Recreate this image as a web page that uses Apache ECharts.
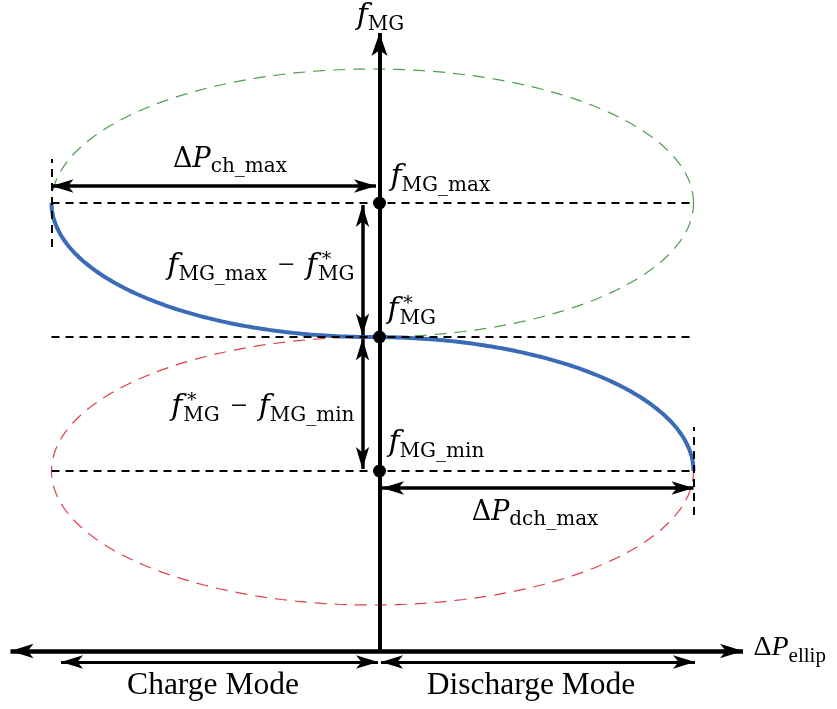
<!DOCTYPE html>
<html>
<head>
<meta charset="utf-8">
<script src="https://cdn.jsdelivr.net/npm/echarts@6/dist/echarts.min.js"></script>
<style>
  html, body { margin: 0; padding: 0; background: #ffffff; }
  #chart { width: 837px; height: 709px; }
</style>
</head>
<body>
<div id="chart"></div>
<script>
// Microgrid frequency levels: f_MG_max, f*_MG, f_MG_min
const freqLevels = [448, 314, 180];
// Power limits of the storage: charge (negative side) and discharge
const powerLimits = [-328, 314];
// Operating modes along the ΔP_ellip axis
const modeNames = ['Charge Mode', 'Discharge Mode'];
const chargeSpan = [-318.5, -1.5];
const dischargeSpan = [1.5, 315.5];
// Extent of the two axes
const pAxisSpan = [-369, 363.5];
const fAxisTop = 618;

const [fMax, fStar, fMin] = freqLevels;
const [pCh, pDch] = powerLimits;
const pCenter = (pCh + pDch) / 2;
const pHalf = (pDch - pCh) / 2;

// Points of an elliptic arc centred on frequency fc
function ellipseArc(fc, halfF, t0, t1, n) {
  const pts = [];
  for (let i = 0; i <= n; i++) {
    const t = t0 + (t1 - t0) * i / n;
    pts.push([pCenter + pHalf * Math.cos(t), fc + halfF * Math.sin(t)]);
  }
  return pts;
}
const upperEllipse = ellipseArc(fMax, fMax - fStar, 0, 2 * Math.PI, 240);
const lowerEllipse = ellipseArc(fMin, fStar - fMin, 0, 2 * Math.PI, 240);
const droopCurve = ellipseArc(fMax, fMax - fStar, Math.PI, 1.5 * Math.PI, 120)
  .concat(ellipseArc(fMin, fStar - fMin, 0.5 * Math.PI, 0, 120).slice(1));

// Straight line ending in arrow heads whose tips sit on the given points
function arrowLine(from, to, head, width, startArrow, endArrow) {
  return [
    { coord: from, symbol: startArrow ? 'arrow' : 'none', symbolSize: head,
      lineStyle: { color: '#000', width: width, type: 'solid' } },
    { coord: to, symbol: endArrow ? 'arrow' : 'none', symbolSize: head }
  ];
}
function dashedLine(from, to) {
  return [
    { coord: from, lineStyle: { color: '#000', width: 2, type: [8, 6] } },
    { coord: to }
  ];
}

const DIM_HEAD = [10, 22];
const arrows = [
  arrowLine([0, 0], [0, fAxisTop], [12, 23], 4, false, true),
  arrowLine([pAxisSpan[0], 0], [pAxisSpan[1], 0], [11, 23], 4.5, true, true),
  arrowLine([chargeSpan[0], -11], [chargeSpan[1], -11], DIM_HEAD, 3, true, true),
  arrowLine([dischargeSpan[0], -11], [dischargeSpan[1], -11], DIM_HEAD, 3, true, true),
  arrowLine([pCh, fMax + 17], [-3.5, fMax + 17], DIM_HEAD, 3.5, true, true),
  arrowLine([2.5, fMin - 17], [pDch, fMin - 17], DIM_HEAD, 3.5, true, true),
  arrowLine([-17, fMax - 2], [-17, fStar + 1.5], DIM_HEAD, 3.5, true, true),
  arrowLine([-17, fStar - 1.5], [-17, fMin + 2], DIM_HEAD, 3.5, true, true)
];
const guides = freqLevels.map(f => dashedLine([pCh, f], [pDch, f])).concat([
  dashedLine([pCh, fMax - 44], [pCh, fMax + 44]),
  dashedLine([pDch, fMin - 44], [pDch, fMin + 44])
]);

const mathFont = 'DejaVu Serif';
const textFont = 'Liberation Serif';
function tok(extra) {
  return Object.assign({ fontFamily: mathFont, color: '#000', align: 'left', verticalAlign: 'bottom' }, extra);
}
const rich = {
  f:  tok({ fontStyle: 'italic', fontSize: 30, lineHeight: 34, padding: [0, 0, 4, 0] }),
  s:  tok({ fontSize: 20, lineHeight: 22 }),
  st: tok({ fontSize: 19, lineHeight: 28, width: 1, verticalAlign: 'top' }),
  op: tok({ fontFamily: textFont, fontSize: 30, lineHeight: 34, padding: [0, 11, 4, 11] }),
  d:  tok({ fontSize: 27, lineHeight: 34, padding: [0, 0, 4, 0] }),
  p:  tok({ fontStyle: 'italic', fontSize: 27, lineHeight: 34, padding: [0, 0, 4, 0] }),
  d2: tok({ fontFamily: textFont, fontSize: 28, lineHeight: 32, padding: [0, 0, 5, 0] }),
  p2: tok({ fontFamily: textFont, fontStyle: 'italic', fontSize: 28, lineHeight: 32, padding: [0, 0, 5, 0] }),
  s2: tok({ fontFamily: textFont, fontSize: 21, lineHeight: 22 })
};

function textItem(anchor, formatter, position, offset, extra) {
  return {
    value: anchor,
    label: Object.assign({ show: true, position: position, distance: 0, offset: offset, formatter: formatter, color: '#000', opacity: 1 }, extra || {})
  };
}
const modeStyle = { fontFamily: textFont, fontSize: 31.5, color: '#000' };
const STAR = '{st|\u2005*}';
const textItems = [
  textItem([0, fAxisTop], '{f|f}{s|MG}', 'inside', [1, -15]),
  textItem([0, fMax], '{f|f}{s|MG_max}', 'right', [10.5, -24]),
  textItem([0, fStar], '{f|f}' + STAR + '{s|MG}', 'right', [7.5, -25]),
  textItem([0, fMin], '{f|f}{s|MG_min}', 'right', [8.5, -26]),
  textItem([0, (fMax + fStar) / 2], '{f|f}{s|MG_max}{op|−}{f|f}' + STAR + '{s|MG}', 'left', [-24.5, -2]),
  textItem([0, (fStar + fMin) / 2], '{f|f}' + STAR + '{s|MG}{op|−}{f|f}{s|MG_min}', 'left', [-24.5, 5]),
  textItem([pCh / 2, fMax], '{d|Δ}{p|P}{s|ch_max}', 'inside', [14.5, -43]),
  textItem([pDch / 2, fMin], '{d|Δ}{p|P}{s|dch_max}', 'inside', [-1.5, 42]),
  textItem([pAxisSpan[1], 0], '{d2|Δ}{p2|P}{s2|ellip}', 'right', [10, 0]),
  textItem([(chargeSpan[0] + chargeSpan[1]) / 2, 0], modeNames[0], 'inside', [-6.5, 34.5], modeStyle),
  textItem([(dischargeSpan[0] + dischargeSpan[1]) / 2, 0], modeNames[1], 'inside', [-7, 34.5], modeStyle)
];

const chart = echarts.init(document.getElementById('chart'), null, { renderer: 'canvas' });
chart.setOption({
  animation: false,
  backgroundColor: '#ffffff',
  grid: { left: 0, right: 0, top: 0, bottom: 0, containLabel: false },
  xAxis: { type: 'value', min: -379.5, max: 457.5, show: false },
  yAxis: { type: 'value', min: -58, max: 651, show: false },
  series: [
    {
      name: 'guides', type: 'line', data: [], z: 1, silent: true,
      markLine: { silent: true, animation: false, symbol: ['none', 'none'], label: { show: false }, data: guides }
    },
    {
      name: 'upper ellipse', type: 'line', data: upperEllipse, z: 2, silent: true,
      symbol: 'none', lineStyle: { color: '#4f9e4f', width: 1.2, type: [12, 8] }
    },
    {
      name: 'lower ellipse', type: 'line', data: lowerEllipse, z: 2, silent: true,
      symbol: 'none', lineStyle: { color: '#e0404a', width: 1.2, type: [12, 8] }
    },
    {
      name: 'droop curve', type: 'line', data: droopCurve, z: 3, silent: true,
      symbol: 'none', lineStyle: { color: '#3b6bb6', width: 4 }
    },
    {
      name: 'arrows', type: 'line', data: [], z: 4, silent: true,
      markLine: { silent: true, animation: false, symbol: ['none', 'none'], label: { show: false }, data: arrows }
    },
    {
      name: 'levels', type: 'scatter', z: 5, silent: true,
      symbolSize: 13, itemStyle: { color: '#000', opacity: 1 },
      data: freqLevels.map(f => [0, f])
    },
    {
      name: 'texts', type: 'scatter', z: 6, silent: true,
      symbolSize: 1, itemStyle: { color: 'rgba(0,0,0,0)', opacity: 1 },
      label: { show: true, color: '#000', opacity: 1, rich: rich },
      data: textItems
    }
  ]
});
</script>
</body>
</html>
